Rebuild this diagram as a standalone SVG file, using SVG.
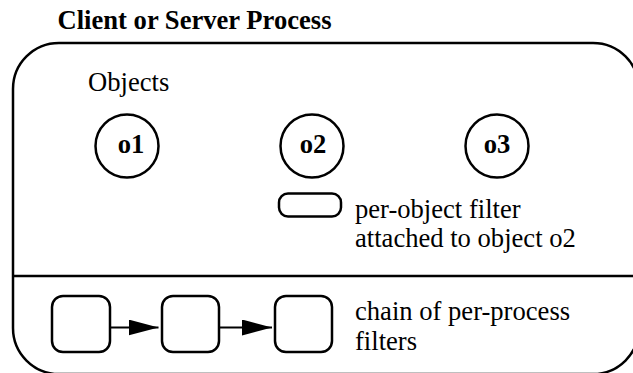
<svg xmlns="http://www.w3.org/2000/svg" width="633" height="373" viewBox="0 0 633 373">
<style>
.ln{fill:none;stroke:#000;stroke-width:2.5}
.t{font-family:'Liberation Serif','Times New Roman',serif;font-size:26.6px;fill:#000}
.b{font-weight:bold}
.m{text-anchor:middle}
</style>
<defs>
<marker id="ah" viewBox="0 0 30 16" refX="30" refY="8" markerWidth="30" markerHeight="16" markerUnits="userSpaceOnUse" orient="auto">
<path d="M0,0 L30,8 L0,16 Z" fill="#000"/>
</marker>
</defs>
<rect width="633" height="373" fill="#fff"/>
<text class="t b" x="57.5" y="29">Client or Server Process</text>
<g id="process">
<path class="ln" d="M59,43 H593 A46,46 0 0 1 639,89 V328 A46,46 0 0 1 593,374 H59 A46,46 0 0 1 13,328 V89 A46,46 0 0 1 59,43 Z"/>
<line class="ln" x1="13" y1="276" x2="640" y2="276"/>
<text class="t" x="88" y="91">Objects</text>
</g>
<g id="o1"><circle class="ln" cx="127" cy="146" r="31.5"/><text class="t b m" x="131" y="153">o1</text></g>
<g id="o2"><circle class="ln" cx="312" cy="146" r="31.5"/><text class="t b m" x="313" y="153">o2</text></g>
<g id="o3"><circle class="ln" cx="497" cy="146" r="31.5"/><text class="t b m" x="497" y="153">o3</text></g>
<g id="objfilter"><rect class="ln" x="279" y="193.5" width="62" height="23" rx="9"/></g>
<g id="objfilter-label">
<text class="t" x="355" y="218">per-object filter</text>
<text class="t" x="355" y="247">attached to object o2</text>
</g>
<g id="f1"><rect class="ln" x="52" y="296" width="58" height="56" rx="11"/></g>
<g id="f2"><rect class="ln" x="162" y="296" width="57" height="56" rx="11"/></g>
<g id="f3"><rect class="ln" x="275" y="296" width="57" height="56" rx="11"/></g>
<g id="chain-label">
<text class="t" x="355" y="320">chain of per-process</text>
<text class="t" x="355" y="350">filters</text>
</g>
<g id="connectors">
<line x1="110" y1="327.5" x2="158.5" y2="327.5" stroke="#000" stroke-width="2" marker-end="url(#ah)"/>
<line x1="219" y1="327.5" x2="272" y2="327.5" stroke="#000" stroke-width="2" marker-end="url(#ah)"/>
</g>
</svg>
